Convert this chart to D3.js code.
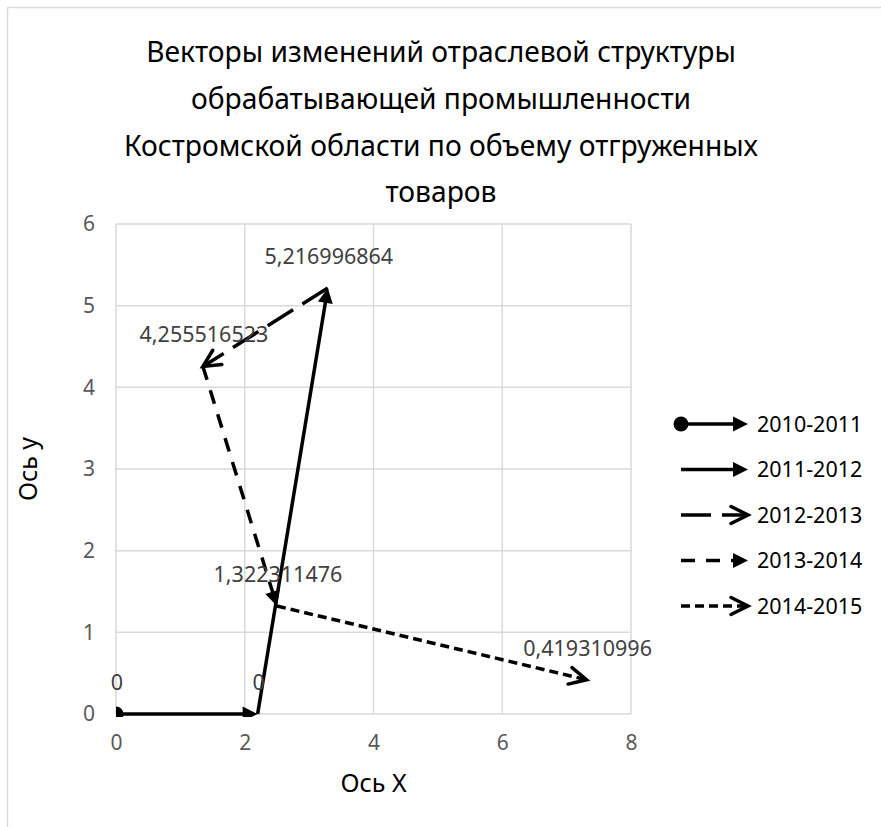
<!DOCTYPE html>
<html>
<head>
<meta charset="utf-8">
<script src="https://cdn.jsdelivr.net/npm/d3@7"></script>
<style>
  body { margin: 0; background: #fff; }
  text { font-family: "Noto Sans", "Open Sans", sans-serif; }
  .tick text { font-size: 21px; fill: #595959; }
</style>
</head>
<body>
<svg id="chart" width="881" height="827"></svg>
<script>
// Chart text
const titleLines = [
  "Векторы изменений отраслевой структуры",
  "обрабатывающей промышленности",
  "Костромской области по объему отгруженных",
  "товаров"
];
const xAxisTitle = "Ось X";
const yAxisTitle = "Ось y";

// Consecutive positions of the structure; period i runs from point i to point i+1
const pointX = [0, 2.2, 3.29, 1.35, 2.5, 7.31];
const pointY = [0, 0, 5.216996864, 4.255516523, 1.322311476, 0.419310996];
const periods = ["2010-2011", "2011-2012", "2012-2013", "2013-2014", "2014-2015"];

// Axis ticks
const xTicks = [0, 2, 4, 6, 8];
const yTicks = [0, 1, 2, 3, 4, 5, 6];

// Line style of each period: dash pattern, start marker, end marker
const periodStyle = [
  { dash: null,     start: "circle", end: "triangle" },
  { dash: null,     start: null,     end: "triangle" },
  { dash: "30,11",  start: null,     end: "open" },
  { dash: "14,11",  start: null,     end: "triangle" },
  { dash: "9,5",    start: null,     end: "open" }
];

const W = 881, H = 827;
const svg = d3.select("#chart");
const LW = 3.5;

// Outer frame
svg.append("rect")
  .attr("x", 7.5).attr("y", 7.5)
  .attr("width", W).attr("height", H)
  .attr("fill", "none").attr("stroke", "#d9d9d9").attr("stroke-width", 1.5);

// Title
svg.append("g").selectAll("text").data(titleLines).join("text")
  .attr("x", 441).attr("y", (d, i) => 62 + i * 46.8)
  .attr("text-anchor", "middle")
  .attr("font-size", 28.2).attr("fill", "#000")
  .text(d => d);

// Scales
const x = d3.scaleLinear().domain([0, 8]).range([116, 631]);
const y = d3.scaleLinear().domain([0, 6]).range([714, 224]);

// Gridlines
const grid = svg.append("g").attr("stroke", "#d9d9d9").attr("stroke-width", 1.5);
grid.selectAll(".gx").data(xTicks).join("line")
  .attr("x1", d => x(d)).attr("x2", d => x(d))
  .attr("y1", y(0)).attr("y2", y(6));
grid.selectAll(".gy").data(yTicks).join("line")
  .attr("x1", x(0)).attr("x2", x(8))
  .attr("y1", d => y(d)).attr("y2", d => y(d));

// Axes (labels only)
const xAxis = svg.append("g").attr("transform", `translate(0,${y(0)})`)
  .call(d3.axisBottom(x).tickValues(xTicks).tickSize(0).tickPadding(21).tickFormat(d3.format("d")));
const yAxis = svg.append("g").attr("transform", `translate(${x(0)},0)`)
  .call(d3.axisLeft(y).tickValues(yTicks).tickSize(0).tickPadding(21).tickFormat(d3.format("d")));
[xAxis, yAxis].forEach(a => {
  a.attr("font-size", null).attr("font-family", null);
  a.select(".domain").remove();
});

// Axis titles
svg.append("text").attr("x", (x(0) + x(8)) / 2).attr("y", 792)
  .attr("text-anchor", "middle").attr("font-size", 25).attr("fill", "#000").text(xAxisTitle);
svg.append("text")
  .attr("transform", `translate(37,${(y(0) + y(6)) / 2}) rotate(-90)`)
  .attr("text-anchor", "middle").attr("font-size", 25).attr("fill", "#000").text(yAxisTitle);

// Clip for marks inside the plot area
svg.append("clipPath").attr("id", "plotClip").append("rect")
  .attr("x", x(0)).attr("y", y(6) - 40).attr("width", x(8) - x(0) + 40).attr("height", y(0) - y(6) + 43);

// Draws a vector from (x1,y1) to (x2,y2) in pixel space with its markers
function drawVector(g, x1, y1, x2, y2, style) {
  const dx = x2 - x1, dy = y2 - y1, len = Math.hypot(dx, dy);
  const ux = dx / len, uy = dy / len, px = -uy, py = ux;
  let ex = x2, ey = y2;
  if (style.end === "triangle") { ex = x2 - ux * 12; ey = y2 - uy * 12; }
  g.append("line")
    .attr("x1", x1).attr("y1", y1).attr("x2", ex).attr("y2", ey)
    .attr("stroke", "#000").attr("stroke-width", LW)
    .attr("stroke-dasharray", style.dash);
  if (style.start === "circle") {
    g.append("circle").attr("cx", x1).attr("cy", y1).attr("r", 7.5).attr("fill", "#000");
  }
  if (style.end === "triangle") {
    const L = 15, hw = 7.5;
    const bx = x2 - ux * L, by = y2 - uy * L;
    g.append("path")
      .attr("d", `M${x2},${y2}L${bx + px * hw},${by + py * hw}L${bx - px * hw},${by - py * hw}Z`)
      .attr("fill", "#000");
  } else if (style.end === "open") {
    const L = 17, hw = 8.5;
    const bx = x2 - ux * L, by = y2 - uy * L;
    g.append("path")
      .attr("d", `M${bx + px * hw},${by + py * hw}L${x2},${y2}L${bx - px * hw},${by - py * hw}`)
      .attr("fill", "none").attr("stroke", "#000").attr("stroke-width", LW)
      .attr("stroke-linejoin", "miter").attr("stroke-linecap", "round");
  }
}

// Vectors
const marks = svg.append("g").attr("clip-path", "url(#plotClip)");
periods.forEach((p, i) => {
  drawVector(marks.append("g"),
    x(pointX[i]), y(pointY[i]), x(pointX[i + 1]), y(pointY[i + 1]), periodStyle[i]);
});

// Value labels above each point
const fmt = v => v === 0 ? "0" : String(v).replace(".", ",");
svg.append("g").selectAll("text").data(pointY).join("text")
  .attr("x", (d, i) => x(pointX[i]) + 1)
  .attr("y", d => y(d) - 24)
  .attr("text-anchor", "middle")
  .attr("font-size", 21.5).attr("fill", "#404040")
  .text(d => fmt(d));

// Legend
const legend = svg.append("g");
periods.forEach((p, i) => {
  const ly = 424 + i * 45.5;
  const g = legend.append("g");
  drawVector(g, 681, ly, 748, ly, { dash: periodStyle[i].dash, start: periodStyle[i].start, end: periodStyle[i].end });
  g.append("text").attr("x", 757).attr("y", ly + 7.5)
    .attr("font-size", 21.5).attr("fill", "#000").text(p);
});
</script>
</body>
</html>
